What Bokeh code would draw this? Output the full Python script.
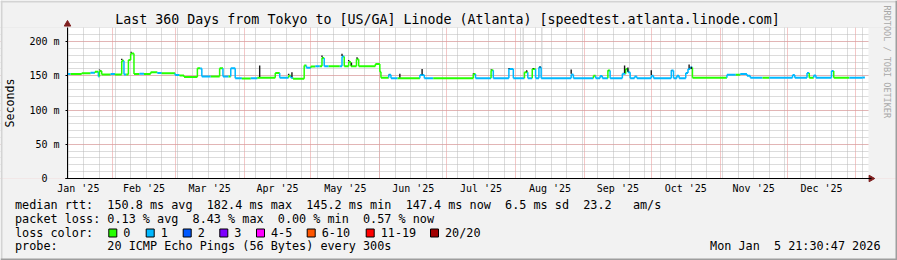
import numpy as np
import pandas as pd
from bokeh.plotting import figure
from bokeh.models import FixedTicker, ColumnDataSource, Range1d, DatetimeTickFormatter
from bokeh.core.properties import value
from bokeh.embed import file_html
from bokeh.resources import INLINE

# ---------------- data ----------------
title_text = "Last 360 Days from Tokyo to [US/GA] Linode (Atlanta) [speedtest.atlanta.linode.com]"

med_dates = [
    "2025-01-11 15:00", "2025-01-13", "2025-01-18", "2025-01-22", "2025-01-24",
    "2025-01-25 12:00", "2025-01-26", "2025-01-27", "2025-01-31", "2025-02-02",
    "2025-02-05", "2025-02-06", "2025-02-07", "2025-02-08", "2025-02-09",
    "2025-02-10 12:00", "2025-02-13", "2025-02-15", "2025-02-18", "2025-02-21",
    "2025-02-23", "2025-03-01", "2025-03-03", "2025-03-05", "2025-03-11",
    "2025-03-12 06:00", "2025-03-13", "2025-03-17", "2025-03-21", "2025-03-22 12:00",
    "2025-03-25", "2025-03-26", "2025-03-28", "2025-03-31", "2025-04-04",
    "2025-04-07", "2025-04-15", "2025-04-17", "2025-04-21", "2025-04-22",
    "2025-04-23", "2025-04-28", "2025-04-29", "2025-05-01", "2025-05-03",
    "2025-05-05", "2025-05-06", "2025-05-07", "2025-05-09", "2025-05-14",
    "2025-05-15", "2025-05-16", "2025-05-18", "2025-05-19", "2025-05-21 12:00",
    "2025-05-22 12:00", "2025-05-30", "2025-06-01", "2025-06-01 12:00", "2025-06-05",
    "2025-06-06", "2025-06-09", "2025-06-19", "2025-06-21", "2025-06-25",
    "2025-07-13", "2025-07-14", "2025-07-21", "2025-07-22", "2025-07-29",
    "2025-07-31", "2025-08-05", "2025-08-06 12:00", "2025-08-08 12:00", "2025-08-10",
    "2025-08-11 12:00", "2025-08-12 12:00", "2025-08-26", "2025-08-27", "2025-09-05",
    "2025-09-06", "2025-09-08", "2025-09-09", "2025-09-11 12:00", "2025-09-12 12:00",
    "2025-09-18", "2025-09-19 12:00", "2025-09-20 12:00", "2025-09-21 12:00", "2025-09-23 12:00",
    "2025-09-24 12:00", "2025-10-01", "2025-10-02", "2025-10-10", "2025-10-11",
    "2025-10-12 12:00", "2025-10-13 12:00", "2025-10-16 12:00", "2025-10-17 12:00", "2025-10-18 12:00",
    "2025-10-19 12:00", "2025-11-04", "2025-11-08", "2025-11-10", "2025-11-13",
    "2025-11-14 12:00", "2025-11-20", "2025-11-23", "2025-12-03 12:00", "2025-12-04 12:00",
    "2025-12-10", "2025-12-11", "2025-12-13", "2025-12-14", "2025-12-21",
    "2025-12-22", "2025-12-29", "2026-01-04", "2026-01-05",
]
med_ms = [
    152.5, 152.5, 153.5, 154.5, 156.0,
    149.0, 157.0, 152.0, 152.5, 152.0,
    172.0, 152.0, 152.0, 173.0, 182.4,
    152.5, 153.0, 152.5, 155.0, 154.0,
    153.5, 151.0, 150.5, 148.0, 161.0,
    160.5, 149.0, 149.0, 161.0, 149.0,
    149.0, 161.0, 146.5, 146.0, 146.5,
    147.0, 154.0, 147.0, 150.0, 147.0,
    145.5, 165.0, 161.5, 163.5, 164.0,
    164.0, 176.0, 164.0, 164.0, 164.0,
    178.0, 164.0, 170.0, 164.0, 174.0,
    164.0, 167.0, 156.0, 147.0, 151.3,
    146.5, 146.5, 151.0, 146.5, 146.5,
    152.5, 146.5, 158.0, 146.5, 160.0,
    146.5, 155.0, 146.5, 160.0, 146.5,
    162.5, 146.5, 152.0, 146.5, 150.0,
    146.5, 149.5, 146.5, 157.5, 146.5,
    153.0, 160.0, 155.0, 146.5, 149.0,
    146.5, 150.0, 146.5, 157.5, 146.5,
    150.0, 146.5, 154.0, 160.0, 162.0,
    147.0, 151.5, 151.5, 152.5, 150.0,
    147.0, 147.0, 147.0, 151.0, 147.0,
    154.0, 147.0, 150.5, 147.0, 157.0,
    147.0, 147.0, 147.4, 147.4,
]
med_loss = [
    1, 0, 0, 1, 0,
    1, 0, 0, 1, 0,
    0, 1, 0, 0, 0,
    0, 1, 0, 0, 1,
    0, 1, 0, 0, 0,
    1, 1, 0, 0, 1,
    0, 1, 1, 0, 1,
    0, 0, 1, 0, 1,
    0, 0, 1, 0, 1,
    0, 0, 1, 0, 1,
    1, 0, 0, 0, 0,
    0, 0, 0, 0, 1,
    1, 0, 1, 1, 0,
    0, 1, 0, 1, 1,
    1, 0, 1, 0, 1,
    1, 1, 1, 1, 0,
    1, 1, 1, 0, 1,
    1, 0, 1, 1, 1,
    1, 1, 1, 1, 1,
    1, 1, 1, 1, 1,
    0, 1, 0, 1, 1,
    1, 0, 1, 1, 1,
    1, 0, 1, 1, 1,
    0, 1, 1, 1,
]

smoke_dates = [
    "2025-01-26", "2025-02-05", "2025-02-08", "2025-02-09 06:00", "2025-03-11",
    "2025-03-21", "2025-03-26", "2025-04-08", "2025-04-15 12:00", "2025-04-21",
    "2025-04-22 12:00", "2025-05-06", "2025-05-15", "2025-05-18", "2025-05-19 06:00",
    "2025-05-21 18:00", "2025-06-05", "2025-06-10", "2025-06-20", "2025-07-13",
    "2025-07-21", "2025-07-29", "2025-08-06", "2025-08-09", "2025-08-12",
    "2025-08-26", "2025-09-11 12:00", "2025-09-19", "2025-09-20 12:00", "2025-10-01",
    "2025-10-10", "2025-10-18", "2025-10-19", "2025-12-10", "2025-12-21",
]
smoke_top = [
    159, 175, 174, 185, 162,
    162, 162, 165, 155, 153,
    155, 179.6, 182, 173, 169,
    177, 152, 153, 160, 153,
    160, 160, 158, 160, 162,
    159, 158, 165, 162, 158,
    158, 166.5, 160, 155, 158,
]
outlier_dates = ["2025-08-04 10:00", "2025-08-12 20:00"]

y_ticks = [0, 50, 100, 150, 200]
y_tick_labels = ["0\u00a0\u00a0", "50 m", "100 m", "150 m", "200 m"]

loss_labels = ["0", "1", "2", "3", "4-5", "6-10", "11-19", "20/20"]
loss_colors = ["#26ff00", "#00b8ff", "#0059ff", "#7e00ff", "#ff00ff", "#ff5500", "#ff0000", "#a10000"]

stat_lines = [
    "median rtt:  150.8 ms avg  182.4 ms max  145.2 ms min  147.4 ms now  6.5 ms sd  23.2   am/s",
    "packet loss: 0.13 % avg  8.43 % max  0.00 % min  0.57 % now",
    "loss color:",
    "probe:       20 ICMP Echo Pings (56 Bytes) every 300s",
]
stamp_text = "Mon Jan  5 21:30:47 2026"
y_label = "Seconds"
side_text = "RRDTOOL / TOBI OETIKER"

# ---------------- styling / geometry ----------------
BG = "#f2f2f2"
SHADE_A = "#d4d4d4"
SHADE_B = "#9e9e9e"
MONO = "DejaVu Sans Mono"
GRID = "#b9b9b9"
MGRID = "#e88e8e"
ARROW = "#7f1f1f"

W, H = 897, 260
PL, PR, PT, PB = 67, 868, 27, 178     # white plot area on the canvas
PX_PER_DAY = 2.225
PX_PER_MS = 0.685

start = pd.Timestamp("2025-01-11 15:00")
x_lo = start - pd.Timedelta(days=PL / PX_PER_DAY)
x_hi = start + pd.Timedelta(days=(W - PL) / PX_PER_DAY)
y_lo = -(H - PB) / PX_PER_MS
y_hi = PB / PX_PER_MS
y_top = (PB - PT) / PX_PER_MS


def to_ms(ts):
    return pd.Timestamp(ts).value / 1e6


def x_of_px(px):
    return to_ms(start + pd.Timedelta(days=(px - PL) / PX_PER_DAY))


def nb(s):
    return s.replace(" ", "\u00a0")


# ---------------- figure: frame covers the whole canvas ----------------
p = figure(width=W, height=H, x_axis_type="datetime",
           x_range=Range1d(x_lo, x_hi), y_range=Range1d(y_lo, y_hi),
           output_backend="svg", toolbar_location=None, title=None,
           min_border=0, min_border_left=0, min_border_right=0,
           min_border_top=0, min_border_bottom=0)
p.extra_x_ranges = {"px": Range1d(0, W)}
p.extra_y_ranges = {"py": Range1d(H, 0)}
p.background_fill_color = "white"
p.border_fill_color = BG
p.outline_line_color = None

month_starts = pd.date_range("2025-01-01", "2026-01-01", freq="MS")
mid_months = [to_ms(a + (b - a) / 2) for a, b in zip(month_starts[:-1], month_starts[1:])]
weeks = [to_ms(t) for t in pd.date_range("2025-01-12", "2026-01-04", freq="7D")]

p.xaxis.ticker = FixedTicker(ticks=mid_months, minor_ticks=[])
fmt = "%b '%y"
p.xaxis.formatter = DatetimeTickFormatter(days=fmt, months=fmt, years=fmt, hours=fmt)
p.xgrid.ticker = FixedTicker(ticks=[to_ms(t) for t in month_starts[1:]], minor_ticks=weeks)

p.yaxis.ticker = FixedTicker(ticks=y_ticks, minor_ticks=list(range(10, 230, 10)))
p.yaxis.major_label_overrides = {t: s for t, s in zip(y_ticks, y_tick_labels)}

for g in (p.xgrid, p.ygrid):
    g.grid_line_color = MGRID
    g.grid_line_dash = "1 1"
    g.grid_line_width = 1
    g.minor_grid_line_color = GRID
    g.minor_grid_line_dash = "1 1"

for ax in (p.xaxis, p.yaxis):
    ax.axis_line_color = "black"
    ax.axis_line_width = 1
    ax.major_tick_in = 0
    ax.minor_tick_in = 0
    ax.minor_tick_out = 0
    ax.major_label_text_font = MONO
    ax.major_label_text_font_size = "10px"
    ax.major_label_text_color = "black"
p.xaxis.fixed_location = 0
p.xaxis.bounds = (x_of_px(PL - 2), x_of_px(PR + 3))
p.xaxis.major_tick_out = 0
p.xaxis.major_label_standoff = 4
p.yaxis.fixed_location = to_ms(start)
p.yaxis.bounds = (0, y_top)
p.yaxis.major_tick_out = 2
p.yaxis.major_tick_line_color = "black"
p.yaxis.major_label_standoff = 6
p.yaxis.axis_label = y_label
p.yaxis.axis_label_standoff = 9
p.yaxis.axis_label_text_font = MONO
p.yaxis.axis_label_text_font_size = "11.6px"
p.yaxis.axis_label_text_font_style = "normal"
p.yaxis.axis_label_text_color = "black"

# background outside the white plot area
p.quad(left=[0, 0, 0, PR], right=[W, W, PL, W], top=[0, PB, PT, PT], bottom=[PT, H, PB, PB],
       x_range_name="px", y_range_name="py", fill_color=BG, line_color=None)
# 3-D frame
p.quad(left=[0, 0, W - 2, 0], right=[W, 2, W, W], top=[0, 0, 0, H - 2], bottom=[2, H, H, H],
       x_range_name="px", y_range_name="py",
       fill_color=[SHADE_A, SHADE_A, SHADE_B, SHADE_B], line_color=None)

# ---------------- series ----------------
xd = pd.to_datetime(med_dates, format="ISO8601")
vals = np.array(med_ms)
cols = [loss_colors[k] for k in med_loss]


def base_at(t):
    return vals[max(np.searchsorted(xd, t, side="right") - 1, 0)]


od = pd.to_datetime(outlier_dates, format="ISO8601")
p.segment(x0=od, x1=od, y0=[base_at(t) for t in od], y1=[y_top] * len(od),
          line_color="#c8c8c8", line_width=1)

hsrc = ColumnDataSource(dict(x0=xd[:-1], x1=xd[1:], y=vals[:-1], c=cols[:-1]))
p.segment(x0="x0", x1="x1", y0="y", y1="y", line_color="c", line_width=2, source=hsrc)
vsrc = ColumnDataSource(dict(x=xd[1:-1], y0=vals[:-2], y1=vals[1:-1], c=cols[1:-1]))
p.segment(x0="x", x1="x", y0="y0", y1="y1", line_color="c", line_width=1.5, source=vsrc)

sd = pd.to_datetime(smoke_dates, format="ISO8601")
p.segment(x0=sd, x1=sd, y0=[base_at(t) + 1 for t in sd], y1=smoke_top,
          line_color="#1a1a1a", line_width=1.4)

# axis arrows
p.scatter(x=[PL, 870.5], y=[23.7, PB], marker="triangle", size=6.5, angle=[0, -np.pi / 2],
          x_range_name="px", y_range_name="py", fill_color=ARROW, line_color=ARROW)

# ---------------- texts ----------------
txt = dict(x_range_name="px", y_range_name="py", text_font=value(MONO),
           text_baseline="middle", text_color="black")
p.text(x=[447], y=[19], text=[nb(title_text)], text_font_size="13.3px",
       text_align="center", **txt)
p.text(x=[886.5], y=[5], text=[side_text], x_range_name="px", y_range_name="py",
       angle=-np.pi / 2, text_font=value(MONO), text_font_size="8.5px",
       text_align="left", text_baseline="middle", text_color="#a8a8a8")

rows_y = [204.5, 218.3, 232.0, 245.7]
p.text(x=[14.5] * 4, y=rows_y, text=[nb(s) for s in stat_lines],
       text_font_size="11.8px", **txt)
p.text(x=[880], y=[rows_y[3]], text=[nb(stamp_text)], text_font_size="11.8px",
       text_align="right", **txt)

box_x = np.array([108.3, 145.7, 182.7, 219.3, 256.0, 306.7, 365.7, 430.0])
p.quad(left=box_x, right=box_x + 8, top=[228.5] * 8, bottom=[236.5] * 8,
       x_range_name="px", y_range_name="py",
       fill_color=loss_colors, line_color="black", line_width=1)
p.text(x=box_x + 14.5, y=[rows_y[2]] * 8, text=loss_labels, text_font_size="11.8px", **txt)

open("out.html", "w").write(file_html(p, INLINE))
